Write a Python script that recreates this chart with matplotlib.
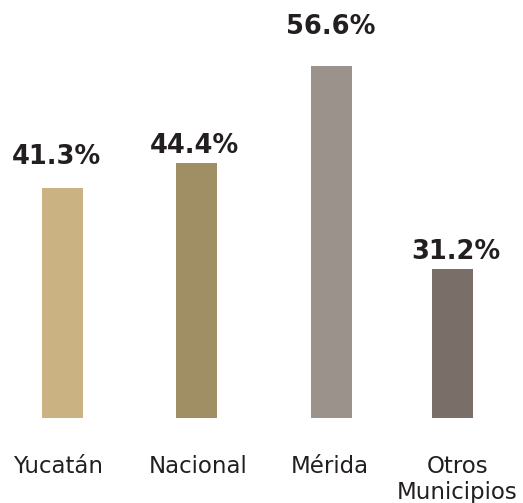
import matplotlib
matplotlib.use("Agg")
import matplotlib.pyplot as plt
from matplotlib.transforms import offset_copy

categories = ["Yucatán", "Nacional", "Mérida", "Otros\nMunicipios"]
values = [41.3, 44.4, 56.6, 31.2]
value_labels = ["41.3%", "44.4%", "56.6%", "31.2%"]
colors = ["#CBB283", "#A08F65", "#9C928C", "#7A6E69"]

W, H = 523, 503
fig = plt.figure(figsize=(W / 100, H / 100), dpi=100)
ax = fig.add_axes([0, 0, 1, 1])

px_per_unit = 8.0
zero_px = 518.4            # pixel row (from top) of value 0
base = (zero_px - 418) / px_per_unit
step = 130.0
first = 62.5
x0 = -first / step
ax.set_xlim(x0, x0 + W / step)
y_bottom = (zero_px - H) / px_per_unit
ax.set_ylim(y_bottom, y_bottom + H / px_per_unit)
ax.axis("off")

bar_dx = [0, 3.5, 8.5, 0]
xs = [i + bar_dx[i] / step for i in range(len(values))]
ax.bar(xs, [v - base for v in values], bottom=base, width=41 / step,
       color=colors, linewidth=0)

label_gap = [24, 10, 32, 10]
label_dx = [-6, -2, 0, 3]
txtc = "#231F20"
for i, (v, lab) in enumerate(zip(values, value_labels)):
    tr = offset_copy(ax.transData, fig=fig, x=label_dx[i] * 0.72,
                     y=label_gap[i] * 0.72, units="points")
    ax.text(xs[i], v, lab, transform=tr, ha="center", va="baseline",
            fontsize=18.5, fontweight="bold", color=txtc)

cat_dx = [-4, 2, -1, 5]
for i, c in enumerate(categories):
    tr = offset_copy(ax.transData, fig=fig, x=cat_dx[i] * 0.72,
                     y=-(455 - 418) * 0.72, units="points")
    ax.text(xs[i], base, c, transform=tr, ha="center", va="top",
            fontsize=16.5, color=txtc, linespacing=1.15)

fig.savefig("out.png", dpi=100)
